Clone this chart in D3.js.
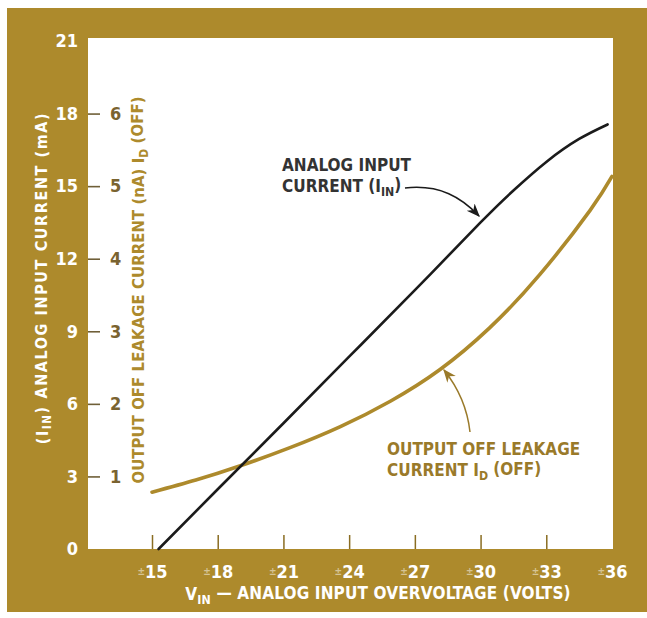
<!DOCTYPE html>
<html>
<head>
<meta charset="UTF-8">
<script src="https://cdn.jsdelivr.net/npm/d3@7"></script>
<style>
  body { margin: 0; background: #fff; }
  text { font-family: "Liberation Sans Narrow", "DejaVu Sans Condensed", sans-serif; font-weight: bold; }
</style>
</head>
<body>
<script>
// data
var xTicks = [15, 18, 21, 24, 27, 30, 33, 36];
var yTicksLeft = [0, 3, 6, 9, 12, 15, 18, 21];   // mA
var yTicksRight = [1, 2, 3, 4, 5, 6];            // nA

// analog input current I_IN (mA) vs overvoltage
var inputVolts = [15.3, 18, 21, 24, 27, 30, 31.5, 33, 34.5, 35.8];
var inputCurrent = [0, 2.47, 5.2, 7.95, 10.7, 13.5, 14.82, 16.0, 16.95, 17.55];

// output off leakage current I_D(OFF), plotted on the mA scale (nA = mA / 3)
var leakVolts = [15, 17, 19, 21.3, 23.6, 25.9, 28.15, 30.4, 32.7, 35, 36];
var leakCurrent = [2.35, 2.85, 3.43, 4.19, 5.06, 6.12, 7.42, 9.13, 11.34, 14.0, 15.4];

var W = 647, H = 618;
var gold = "#ad8a2c";

var svg = d3.select("body").append("svg")
    .attr("width", W)
    .attr("height", H);

// gold panel + white plot area
svg.append("rect").attr("x", 7).attr("y", 8).attr("width", W - 7).attr("height", 604).attr("fill", gold);
svg.append("rect").attr("x", 88).attr("y", 38).attr("width", 525).attr("height", 511).attr("fill", "#fff");

var x = d3.scaleLinear().domain([15, 36]).range([152, 612]);
var y = d3.scaleLinear().domain([0, 21]).range([549, 41]);
var yR = d3.scaleLinear().domain([0, 7]).range([549, 41]);

// x axis: short ticks pointing up into the plot
var xAxis = svg.append("g").attr("transform", "translate(0,549)")
    .call(d3.axisBottom(x).tickValues(xTicks).tickSizeInner(-14).tickSizeOuter(0).tickFormat(""));
xAxis.select(".domain").remove();
xAxis.selectAll(".tick line").attr("stroke", "#8a6d22").attr("stroke-width", 1.5)
    .filter(function(d) { return d == 36; }).remove();
xAxis.selectAll(".tick").append("text")
    .attr("y", 29)
    .attr("text-anchor", "middle")
    .attr("fill", "#fff")
    .attr("font-size", 18)
    .each(function(d) {
        var t = d3.select(this);
        t.append("tspan").attr("font-size", 10).attr("fill-opacity", 0.5).attr("dy", -3).text("±");
        t.append("tspan").attr("dy", 3).text(d);
    });

// left axis (mA), white labels on gold
var yAxis = svg.append("g").attr("transform", "translate(88,0)")
    .call(d3.axisLeft(y).tickValues(yTicksLeft).tickSize(0).tickPadding(10));
yAxis.select(".domain").remove();
yAxis.selectAll("text").attr("fill", "#fff").attr("font-size", 18).attr("font-family", null);

// inner axis (nA) with dashes
var yAxisR = svg.append("g").attr("transform", "translate(88,0)")
    .call(d3.axisRight(yR).tickValues(yTicksRight).tickSize(12).tickPadding(10).tickFormat(d3.format("d")));
yAxisR.select(".domain").remove();
yAxisR.selectAll(".tick line").attr("stroke", "#6f5f38").attr("stroke-width", 1.6);
yAxisR.selectAll("text").attr("fill", "#7a6330").attr("font-size", 18).attr("font-family", null);

// curves
var line = d3.line().curve(d3.curveNatural)
    .x(function(d) { return x(d[0]); })
    .y(function(d) { return y(d[1]); });

svg.append("path")
    .datum(d3.zip(leakVolts, leakCurrent))
    .attr("d", line)
    .attr("fill", "none")
    .attr("stroke", gold)
    .attr("stroke-width", 3.6)
    .attr("stroke-linecap", "round");

svg.append("path")
    .datum(d3.zip(inputVolts, inputCurrent))
    .attr("d", line)
    .attr("fill", "none")
    .attr("stroke", "#1b1b1b")
    .attr("stroke-width", 2.6)
    .attr("stroke-linecap", "round");

// helper for text with a subscript
function sub(t, before, s, after) {
    t.append("tspan").text(before);
    t.append("tspan").attr("font-size", "0.72em").attr("dy", "0.3em").text(s);
    t.append("tspan").attr("dy", "-0.3em").text(after);
}

// axis titles
var xt = svg.append("text").attr("x", 378).attr("y", 600).attr("text-anchor", "middle")
    .attr("fill", "#fff").attr("font-size", 17).attr("letter-spacing", 0.15);
sub(xt, "V", "IN", "  —  ANALOG INPUT OVERVOLTAGE (VOLTS)");

var lt = svg.append("text").attr("transform", "translate(48,278) rotate(-90)").attr("text-anchor", "middle")
    .attr("fill", "#fff").attr("font-size", 16).attr("letter-spacing", 1.6);
sub(lt, "(I", "IN", ") ANALOG INPUT CURRENT (mA)");

var it = svg.append("text").attr("transform", "translate(144,290) rotate(-90)").attr("text-anchor", "middle")
    .attr("fill", gold).attr("font-size", 16.5).attr("letter-spacing", 0.1);
sub(it, "OUTPUT OFF LEAKAGE CURRENT (nA) I", "D", " (OFF)");

// annotations
svg.append("defs").selectAll("marker")
    .data([["arrBlack", "#1b1b1b"], ["arrGold", "#9a7a2a"]])
    .enter().append("marker")
    .attr("id", function(d) { return d[0]; })
    .attr("viewBox", "0 0 10 10").attr("refX", 9).attr("refY", 5)
    .attr("markerWidth", 9).attr("markerHeight", 9).attr("orient", "auto")
    .append("path").attr("d", "M0,1 L10,5 L0,9 L3,5 Z").attr("fill", function(d) { return d[1]; });

var a1 = svg.append("text").attr("x", 282).attr("y", 171).attr("fill", "#333").attr("font-size", 17);
a1.text("ANALOG INPUT");
var a2 = svg.append("text").attr("x", 282).attr("y", 192).attr("fill", "#333").attr("font-size", 17);
sub(a2, "CURRENT (I", "IN", ")");
svg.append("path").attr("d", "M405,188 C440,184 462,198 479,216")
    .attr("fill", "none").attr("stroke", "#1b1b1b").attr("stroke-width", 1.5)
    .attr("marker-end", "url(#arrBlack)");

var g1 = svg.append("text").attr("x", 387).attr("y", 455).attr("fill", "#9a7a2a").attr("font-size", 17);
g1.text("OUTPUT OFF LEAKAGE");
var g2 = svg.append("text").attr("x", 387).attr("y", 476).attr("fill", "#9a7a2a").attr("font-size", 17);
sub(g2, "CURRENT I", "D", " (OFF)");
svg.append("path").attr("d", "M470,432 C467,405 456,385 444,370")
    .attr("fill", "none").attr("stroke", "#9a7a2a").attr("stroke-width", 1.5)
    .attr("marker-end", "url(#arrGold)");
</script>
</body>
</html>
